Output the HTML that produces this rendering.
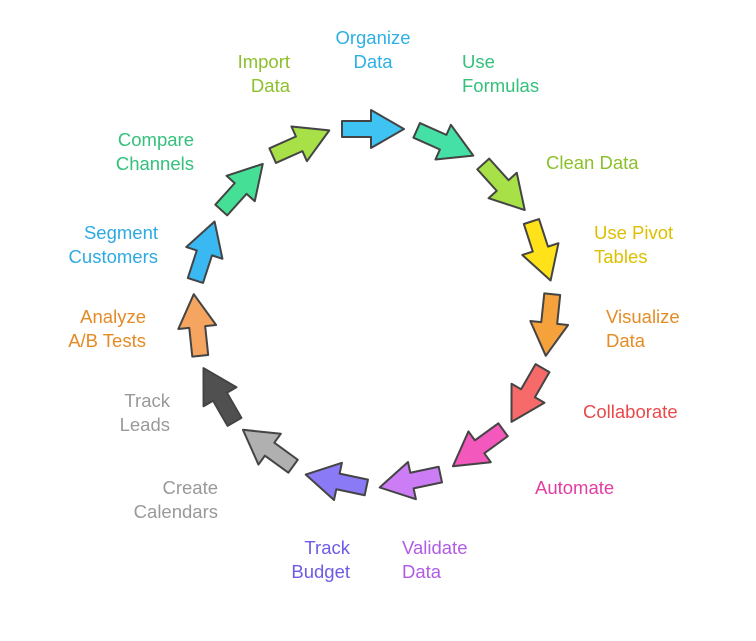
<!DOCTYPE html>
<html><head><meta charset="utf-8"><style>
body{margin:0;background:#fff;}
svg text{font-family:"Liberation Sans",sans-serif;font-size:18.5px;}
</style></head><body>
<svg width="756" height="636" viewBox="0 0 756 636" xmlns="http://www.w3.org/2000/svg">
<defs>
<path id="a" d="M-31,-8 L-2,-8 L-2,-19 L31,0 L-2,19 L-2,8 L-31,8 Z"/>
</defs>
<g stroke="#444" stroke-width="2" stroke-linejoin="round">
<use href="#a" fill="#3ec3f2" transform="translate(373,129) rotate(0)"/>
<use href="#a" fill="#45e0a5" transform="translate(445,143) rotate(24)"/>
<use href="#a" fill="#a8e048" transform="translate(504,187) rotate(48)"/>
<use href="#a" fill="#ffe21a" transform="translate(541,251) rotate(72)"/>
<use href="#a" fill="#f5a23c" transform="translate(549,325) rotate(96)"/>
<use href="#a" fill="#f76a6a" transform="translate(527,395) rotate(120)"/>
<use href="#a" fill="#f358bd" transform="translate(478,448) rotate(144)"/>
<use href="#a" fill="#cc7cf5" transform="translate(410,481) rotate(168)"/>
<use href="#a" fill="#8a7af5" transform="translate(336,481) rotate(192)"/>
<use href="#a" fill="#b0b0b0" transform="translate(268,448) rotate(216)"/>
<use href="#a" fill="#505050" transform="translate(219,395) rotate(240)"/>
<use href="#a" fill="#f5a560" transform="translate(197,325) rotate(264)"/>
<use href="#a" fill="#3ab8f2" transform="translate(205,251) rotate(288)"/>
<use href="#a" fill="#45e095" transform="translate(242,187) rotate(312)"/>
<use href="#a" fill="#a8e048" transform="translate(301,143) rotate(336)"/>
</g>
<g>
<text x="373" y="44" fill="#2eb0e4" text-anchor="middle">Organize</text><text x="373" y="68" fill="#2eb0e4" text-anchor="middle">Data</text>
<text x="462" y="68" fill="#35c07c">Use</text><text x="462" y="92" fill="#35c07c">Formulas</text>
<text x="546" y="169" fill="#8cc02c">Clean Data</text>
<text x="594" y="239" fill="#dcc000">Use Pivot</text><text x="594" y="263" fill="#dcc000">Tables</text>
<text x="606" y="323" fill="#e58c25">Visualize</text><text x="606" y="347" fill="#e58c25">Data</text>
<text x="583" y="418" fill="#e84a4a">Collaborate</text>
<text x="535" y="494" fill="#e23da2">Automate</text>
<text x="402" y="554" fill="#b05ce5">Validate</text><text x="402" y="578" fill="#b05ce5">Data</text>
<text x="350" y="554" fill="#6c5ce5" text-anchor="end">Track</text><text x="350" y="578" fill="#6c5ce5" text-anchor="end">Budget</text>
<text x="218" y="494" fill="#999" text-anchor="end">Create</text><text x="218" y="518" fill="#999" text-anchor="end">Calendars</text>
<text x="170" y="407" fill="#999" text-anchor="end">Track</text><text x="170" y="431" fill="#999" text-anchor="end">Leads</text>
<text x="146" y="323" fill="#e58a25" text-anchor="end">Analyze</text><text x="146" y="347" fill="#e58a25" text-anchor="end">A/B Tests</text>
<text x="158" y="239" fill="#2eaae2" text-anchor="end">Segment</text><text x="158" y="263" fill="#2eaae2" text-anchor="end">Customers</text>
<text x="194" y="146" fill="#35c07c" text-anchor="end">Compare</text><text x="194" y="170" fill="#35c07c" text-anchor="end">Channels</text>
<text x="290" y="68" fill="#8cc02c" text-anchor="end">Import</text><text x="290" y="92" fill="#8cc02c" text-anchor="end">Data</text>
</g>
</svg>
</body></html>
